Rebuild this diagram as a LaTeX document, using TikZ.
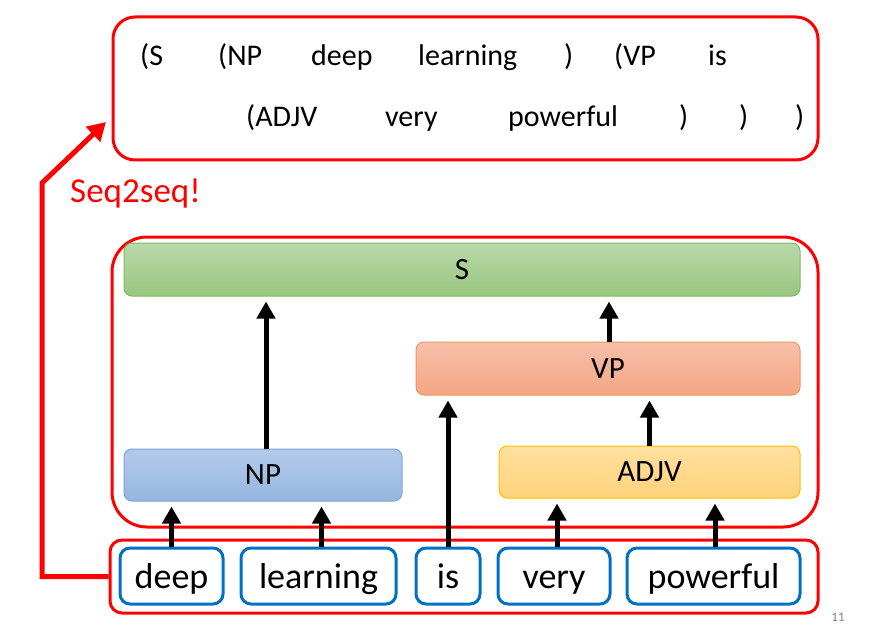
\documentclass[tikz,border=0pt]{standalone}
\usepackage{fontspec}
\setmainfont{Carlito}
\usetikzlibrary{arrows.meta}
\definecolor{myred}{HTML}{FF0000}
\definecolor{myblue}{HTML}{0070C0}
\definecolor{sTop}{HTML}{B9D9A9}
\definecolor{sBot}{HTML}{98C67E}
\definecolor{sLine}{HTML}{82B866}
\definecolor{vTop}{HTML}{F7C0A9}
\definecolor{vBot}{HTML}{F4A583}
\definecolor{vLine}{HTML}{F0935F}
\definecolor{nTop}{HTML}{B3CBEA}
\definecolor{nBot}{HTML}{95B6E0}
\definecolor{nLine}{HTML}{7AA3D6}
\definecolor{aTop}{HTML}{FFE0A0}
\definecolor{aBot}{HTML}{FFD27A}
\definecolor{aLine}{HTML}{FFC000}
\begin{document}
\begin{tikzpicture}[x=1pt,y=-1pt,
  redbox/.style={draw=myred,line width=3pt,inner sep=0pt},
  wordbox/.style={draw=myblue,line width=3pt,rounded corners=10pt,inner sep=0pt,
    minimum height=56pt,text height=30pt,text depth=6pt,font=\fontsize{36}{40}\selectfont},
  phrase/.style={rounded corners=8pt,inner sep=0pt,line width=1pt,
    font=\fontsize{31}{36}\selectfont},
  tok/.style={anchor=base west,inner sep=0pt,font=\fontsize{30}{36}\selectfont},
  arr/.style={line width=5pt,-{Triangle[width=18pt,length=17pt]},shorten >=5pt},
  redarr/.style={draw=myred,line width=5pt,-{Triangle[width=20pt,length=18pt]}}
]
\useasboundingbox (0,0) rectangle (888,639);
% top box
\node[redbox,rounded corners=22pt,minimum width=705pt,minimum height=143pt] (top) at (465.5,88.5) {};
\node[tok] (t1) at (140,66) {(S};
\node[tok] (t2) at (218,66) {(NP};
\node[tok] (t3) at (311,66) {deep};
\node[tok] (t4) at (418,66) {learning};
\node[tok] (t5) at (564,66) {)};
\node[tok] (t6) at (614,66) {(VP};
\node[tok] (t7) at (708,66) {is};
\node[tok] (t8) at (246,127) {(ADJV};
\node[tok] (t9) at (385,127) {very};
\node[tok] (t10) at (508,127) {powerful};
\node[tok] (t11) at (679,127) {)};
\node[tok] (t12) at (739,127) {)};
\node[tok] (t13) at (795,127) {)};
% seq2seq label
\node[anchor=base west,inner sep=0pt,text=myred,font=\fontsize{35}{40}\selectfont] (seq) at (70,202) {Seq2seq!};
% middle box
\node[redbox,rounded corners=35pt,minimum width=706pt,minimum height=290pt] (mid) at (465,382) {};
\node[phrase,draw=sLine,top color=sTop,bottom color=sBot,minimum width=676pt,minimum height=53pt] (S) at (462,269.5) {S};
\node[phrase,draw=vLine,top color=vTop,bottom color=vBot,minimum width=384pt,minimum height=53pt] (VP) at (608,368.5) {VP};
\node[phrase,draw=nLine,top color=nTop,bottom color=nBot,minimum width=278pt,minimum height=52pt] (NP) at (263,475) {NP};
\node[phrase,draw=aLine,top color=aTop,bottom color=aBot,minimum width=301pt,minimum height=52pt] (ADJV) at (649.5,472) {ADJV};
% bottom box
\node[redbox,rounded corners=12pt,minimum width=708pt,minimum height=73pt] (bot) at (464,576.5) {};
\node[wordbox,minimum width=103pt] (w1) at (171.5,576) {deep};
\node[wordbox,minimum width=155pt] (w2) at (318.5,576) {learning};
\node[wordbox,minimum width=64pt] (w3) at (448,576) {is};
\node[wordbox,minimum width=112pt] (w4) at (554,576) {very};
\node[wordbox,minimum width=173pt] (w5) at (713.5,576) {powerful};
% arrows
\draw[arr] (w1.north) -- (w1.north |- NP.south);
\draw[arr] ([xshift=3pt]w2.north) -- ([xshift=3pt]w2.north |- NP.south);
\draw[arr] (w3.north) -- (w3.north |- VP.south);
\draw[arr] ([xshift=3pt]w4.north) -- ([xshift=3pt]w4.north |- ADJV.south);
\draw[arr] ([xshift=1.5pt]w5.north) -- ([xshift=1.5pt]w5.north |- ADJV.south);
\draw[arr] ([xshift=3pt]NP.north) -- ([xshift=3pt]NP.north |- S.south);
\draw[arr] (ADJV.north) -- (ADJV.north |- VP.south);
\draw[arr] ([xshift=1pt]VP.north) -- ([xshift=1pt]VP.north |- S.south);
% seq2seq arrow
\coordinate (corner) at (42,183);
\coordinate (tip) at (106,122);
\draw[redarr] (bot.west) -| (corner) -- (tip);
% page number
\node[text=gray,font=\fontsize{13}{15}\selectfont,inner sep=0pt] (pg) at (838,617) {11};
\end{tikzpicture}
\end{document}
